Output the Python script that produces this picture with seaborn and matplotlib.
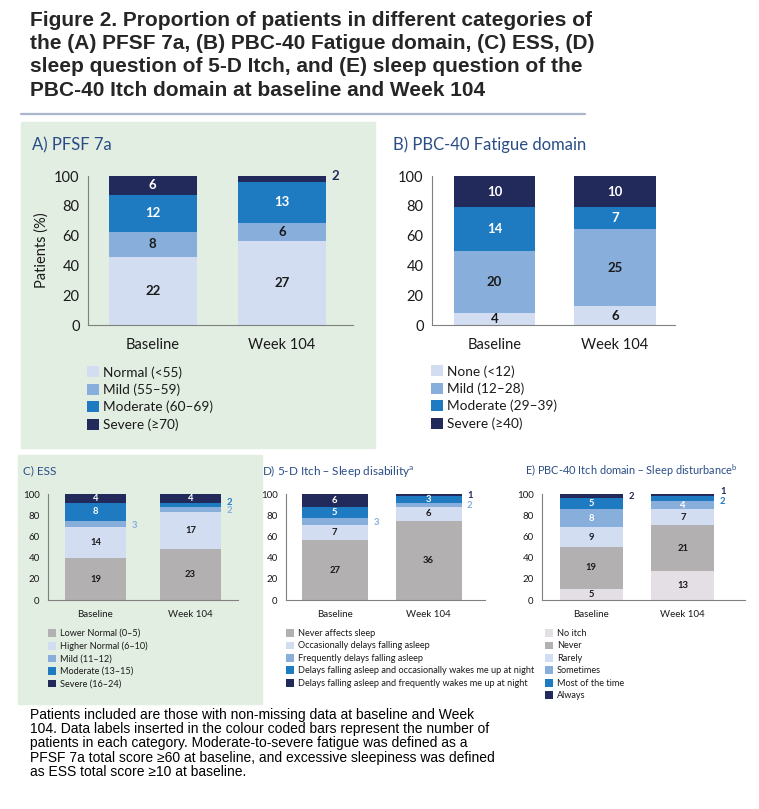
import numpy as np
import pandas as pd
import matplotlib
matplotlib.use("Agg")
import matplotlib.pyplot as plt
import seaborn as sns
from matplotlib.patches import Patch, Rectangle
from matplotlib.lines import Line2D

# ---- data: number of patients in each category ----
timepoints = ["Baseline", "Week 104"]

pfsf_cats = ["Normal (<55)", "Mild (55\u201359)", "Moderate (60\u201369)", "Severe (\u226570)"]
pfsf_baseline = [22, 8, 12, 6]
pfsf_week104 = [27, 6, 13, 2]

fatigue_cats = ["None (<12)", "Mild (12\u201328)", "Moderate (29\u201339)", "Severe (\u226540)"]
fatigue_baseline = [4, 20, 14, 10]
fatigue_week104 = [6, 25, 7, 10]

ess_cats = ["Lower Normal (0\u20135)", "Higher Normal (6\u201310)", "Mild (11\u201312)",
            "Moderate (13\u201315)", "Severe (16\u201324)"]
ess_baseline = [19, 14, 3, 8, 4]
ess_week104 = [23, 17, 2, 2, 4]

itch5d_cats = ["Never affects sleep", "Occasionally delays falling asleep",
               "Frequently delays falling asleep",
               "Delays falling asleep and occasionally wakes me up at night",
               "Delays falling asleep and frequently wakes me up at night"]
itch5d_baseline = [27, 7, 3, 5, 6]
itch5d_week104 = [36, 6, 2, 3, 1]

pbc_itch_cats = ["No itch", "Never", "Rarely", "Sometimes", "Most of the time", "Always"]
pbc_itch_baseline = [5, 19, 9, 8, 5, 2]
pbc_itch_week104 = [13, 21, 7, 4, 2, 1]

# ---- styling ----
NAVY = "#222a5b"
BLUE = "#1f7bc1"
MILD = "#88aedb"
LIGHT = "#d2ddf1"
GREY = "#b3b0b1"
PALE = "#e4dfe5"
DARK = "#1a1a1a"
TITLE_BLUE = "#2a4d86"
GREEN_BG = "#e2eee2"

sns.set_style("white")
plt.rcParams["font.family"] = ["Lato", "DejaVu Sans"]

W, H = 759, 809
fig = plt.figure(figsize=(W / 100, H / 100), dpi=100)


def rect(l, t, r, b):
    return [l / W, 1 - b / H, (r - l) / W, (b - t) / H]


# green panel backgrounds
fig.patches.append(Rectangle((21 / W, 1 - 448 / H), (375 - 21) / W, (448 - 122) / H,
                             transform=fig.transFigure, color=GREEN_BG, zorder=-10))
fig.patches.append(Rectangle((18 / W, 1 - 704 / H), (262 - 18) / W, (704 - 455) / H,
                             transform=fig.transFigure, color=GREEN_BG, zorder=-10))

fig.text(30 / W, 1 - 11 / H,
         "Figure 2. Proportion of patients in different categories of\n"
         "the (A) PFSF 7a, (B) PBC-40 Fatigue domain, (C) ESS, (D)\n"
         "sleep question of 5-D Itch, and (E) sleep question of the\n"
         "PBC-40 Itch domain at baseline and Week 104",
         va="top", ha="left", fontsize=15, fontweight="bold",
         family=["Liberation Sans", "DejaVu Sans"], linespacing=1.28)
fig.add_artist(Line2D([21 / W, 585 / W], [1 - 114 / H] * 2, color="#a9b6cc", lw=1.6))


def draw_panel(box, cats, base, week, colors, txt_colors, outside, xlim,
               fs_tick, fs_lab, width=0.68, xpad=6):
    ax = fig.add_axes(rect(*box))
    ax.patch.set_alpha(0)
    counts = pd.DataFrame({timepoints[0]: base, timepoints[1]: week}, index=cats)
    pct = counts / counts.sum() * 100
    cum = pct.cumsum()
    # stacked bars: draw cumulative totals from the top category down
    for k in reversed(range(len(cats))):
        sns.barplot(x=timepoints, y=cum.iloc[k].values, color=colors[k], width=width,
                    saturation=1, errorbar=None, linewidth=0, ax=ax)
    out_keys = {(o[0], o[1]): o[2] for o in outside}
    for j, tp in enumerate(timepoints):
        for k in range(len(cats)):
            mid = cum.iloc[k][tp] - pct.iloc[k][tp] / 2
            n = counts.iloc[k][tp]
            if (j, k) in out_keys:
                ax.annotate(str(n), xy=(j + width / 2, mid), xytext=(4, out_keys[(j, k)]),
                            textcoords="offset points", ha="left", va="center",
                            fontsize=fs_lab, fontweight="bold", color=colors[k],
                            annotation_clip=False)
            else:
                ax.text(j, mid, str(n), ha="center", va="center", fontsize=fs_lab,
                        fontweight="bold", color=txt_colors[k])
    ax.set_ylim(0, 100)
    ax.set_yticks(range(0, 101, 20))
    ax.set_xlim(*xlim)
    ax.set_xticks([-0.5, 0.5, 1.5])
    ax.set_xticklabels([])
    ax.set_xticks([0, 1], minor=True)
    ax.set_xticklabels(timepoints, minor=True, fontsize=fs_tick, color=DARK)
    ax.tick_params(axis="x", which="major", direction="out", length=4, width=0.8, color="#808080")
    ax.tick_params(axis="x", which="minor", length=0, pad=xpad)
    ax.tick_params(axis="y", direction="out", length=4, width=0.8, color="#808080",
                   labelsize=fs_tick, labelcolor=DARK, pad=2)
    ax.set_xlabel("")
    for s in ["top", "right"]:
        ax.spines[s].set_visible(False)
    for s in ["left", "bottom"]:
        ax.spines[s].set_color("#808080")
        ax.spines[s].set_linewidth(0.8)
    return ax


def add_legend(cats, colors, left, top, fs, spacing, pad=0.4):
    fig.legend(handles=[Patch(facecolor=c, edgecolor="none") for c in colors], labels=cats,
               loc="upper left", bbox_to_anchor=(left / W, 1 - top / H), frameon=False,
               fontsize=fs, handlelength=0.9, handleheight=0.9, handletextpad=pad,
               labelspacing=spacing, borderpad=0, borderaxespad=0, labelcolor=DARK)


# A) PFSF 7a
ax_a = draw_panel((88, 176, 353, 325), pfsf_cats, pfsf_baseline, pfsf_week104,
                  [LIGHT, MILD, BLUE, NAVY], [DARK, DARK, "white", "white"],
                  [(1, 3, 2)], (-0.5, 1.55), 10.5, 9.5, xpad=9)
ax_a.set_ylabel("Patients (%)", fontsize=10.5, color=DARK, labelpad=4)
fig.text(32 / W, 1 - 145 / H, "A) PFSF 7a", fontsize=12, color=TITLE_BLUE, va="center")
add_legend(pfsf_cats, [LIGHT, MILD, BLUE, NAVY], 87, 366, 9.8, 0.36, pad=0.3)

# B) PBC-40 Fatigue domain
draw_panel((432, 176, 675, 325), fatigue_cats, fatigue_baseline, fatigue_week104,
           [LIGHT, MILD, BLUE, NAVY], [DARK, DARK, "white", "white"],
           [], (-0.52, 1.34), 10.5, 9.5, xpad=9)
fig.text(393 / W, 1 - 145 / H, "B) PBC-40 Fatigue domain", fontsize=12,
         color=TITLE_BLUE, va="center")
add_legend(fatigue_cats, [LIGHT, MILD, BLUE, NAVY], 431, 365, 9.8, 0.36, pad=0.3)

# C) ESS
draw_panel((48, 494, 238, 600), ess_cats, ess_baseline, ess_week104,
           [GREY, LIGHT, MILD, BLUE, NAVY], [DARK, DARK, DARK, "white", "white"],
           [(0, 2, -1), (1, 3, 2), (1, 2, -1)], (-0.5, 1.49), 7, 6.8, width=0.65, xpad=7)
fig.text(23 / W, 1 - 471 / H, "C) ESS", fontsize=8.5, color=TITLE_BLUE, va="center")
add_legend(ess_cats, [GREY, LIGHT, MILD, BLUE, NAVY], 48, 629, 6.6, 0.38)

# D) 5-D Itch - Sleep disability
draw_panel((286, 494, 485, 600), itch5d_cats, itch5d_baseline, itch5d_week104,
           [GREY, LIGHT, MILD, BLUE, NAVY], [DARK, DARK, DARK, "white", "white"],
           [(0, 2, -1), (1, 2, 0), (1, 4, 0)], (-0.52, 1.6), 7, 6.8, width=0.7, xpad=7)
fig.text(262 / W, 1 - 471 / H, "D) 5-D Itch \u2013 Sleep disability$^{\\mathregular{a}}$",
         fontsize=8.5, color=TITLE_BLUE, va="center")
add_legend(itch5d_cats, [GREY, LIGHT, MILD, BLUE, NAVY], 286, 629, 6.6, 0.38)

# E) PBC-40 Itch domain - Sleep disturbance
draw_panel((542, 494, 745, 600), pbc_itch_cats, pbc_itch_baseline, pbc_itch_week104,
           [PALE, GREY, LIGHT, MILD, BLUE, NAVY], [DARK, DARK, DARK, "white", "white", "white"],
           [(0, 5, 0), (1, 5, 2.5), (1, 4, -2)], (-0.54, 1.68), 7, 6.8, width=0.69, xpad=7)
fig.text(525 / W, 1 - 471 / H, "E) PBC-40 Itch domain \u2013 Sleep disturbance$^{\\mathregular{b}}$",
         fontsize=7.9, color=TITLE_BLUE, va="center")
add_legend(pbc_itch_cats, [PALE, GREY, LIGHT, MILD, BLUE, NAVY], 545, 629, 6.6, 0.38)

fig.text(30 / W, 1 - 708 / H,
         "Patients included are those with non-missing data at baseline and Week\n"
         "104. Data labels inserted in the colour coded bars represent the number of\n"
         "patients in each category. Moderate-to-severe fatigue was defined as a\n"
         "PFSF 7a total score \u226560 at baseline, and excessive sleepiness was defined\n"
         "as ESS total score \u226510 at baseline.",
         va="top", ha="left", fontsize=10, color="black",
         family=["Liberation Sans", "DejaVu Sans"], linespacing=1.02)

fig.savefig("out.png", dpi=100)
